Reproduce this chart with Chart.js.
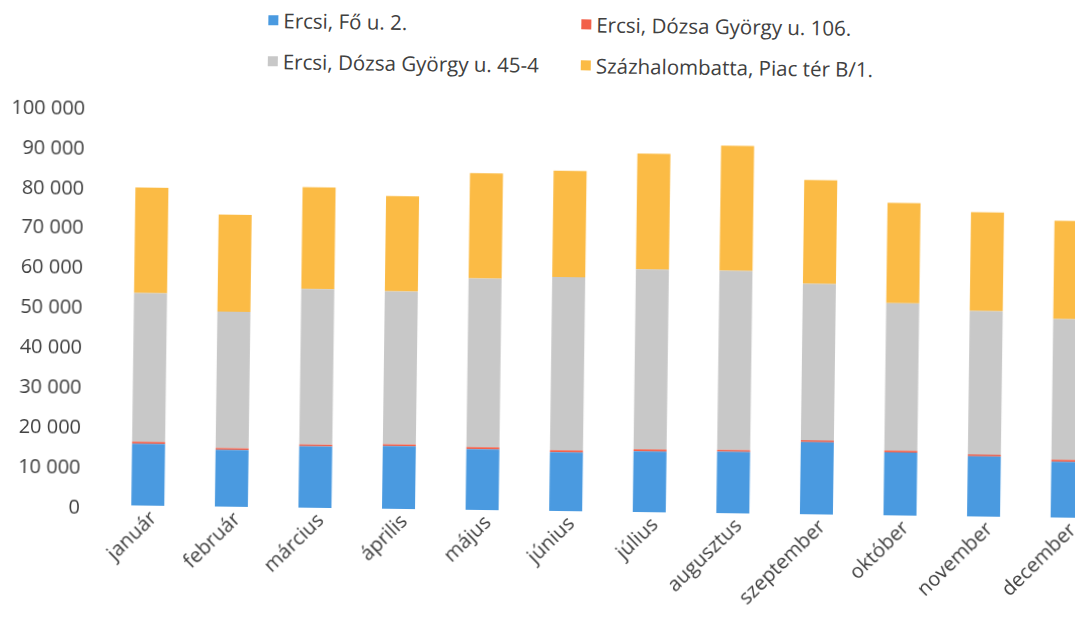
<!DOCTYPE html>
<html lang="hu">
<head>
<meta charset="utf-8">
<title>Havi forgalom</title>
<script src="https://cdn.jsdelivr.net/npm/chart.js@4"></script>
<style>
    html, body { margin: 0; padding: 0; background: #fff; overflow: hidden; }
    body { width: 1075px; height: 625px; }
    #page {
        position: absolute; left: 0; top: 0; width: 1109px; height: 625px;
        background: #fff;
        /* a beolvasott kép enyhén el van forgatva */
        transform: rotate(0.75deg);
        transform-origin: 100px 505px;
    }
    #legend { position: absolute; left: 0; top: 0; width: 1109px; height: 90px;
        font-family: "Open Sans", sans-serif; font-size: 20.5px; color: #404040; }
    .item { position: absolute; display: flex; align-items: center; white-space: nowrap; height: 28px; }
    .box { width: 10px; height: 10px; margin-right: 5px; }
    canvas { position: absolute; left: 0; top: 0; }
</style>
</head>
<body>
<div id="page">
    <div id="legend"></div>
    <canvas id="monthChart" width="1109" height="625"></canvas>
</div>
<script>
// hónapok
const months = ['január', 'február', 'március', 'április', 'május', 'június',
    'július', 'augusztus', 'szeptember', 'október', 'november', 'december'];

// sorozatok (alulról felfelé)
const seriesNames = ['Ercsi, Fő u. 2.', 'Ercsi, Dózsa György u. 106.',
    'Ercsi, Dózsa György u. 45-4', 'Százhalombatta, Piac tér B/1.'];
const seriesColors = ['#4a9ae0', '#f2604a', '#c8c8c8', '#fbbb45'];

const foUtca = [15500, 14200, 15400, 15700, 15250, 14750, 15250, 15400, 18100, 15800, 15100, 14000];
const dozsa106 = [450, 450, 450, 450, 450, 450, 450, 450, 450, 450, 450, 450];
const dozsa45 = [37300, 34250, 38950, 38350, 42350, 43450, 45150, 44950, 39250, 36950, 35950, 35300];
const piacTer = [26450, 24300, 25550, 23900, 26350, 26650, 29000, 31300, 25950, 25100, 24750, 24600];

// tengely beosztás
const yMax = 100000;
const yStep = 10000;

const seriesValues = [foUtca, dozsa106, dozsa45, piacTer];

// ezres tagolás szóközzel
function formatNumber(v) {
    return String(v).replace(/\B(?=(\d{3})+(?!\d))/g, ' ');
}

// jelmagyarázat két oszlopban
function buildLegend() {
    const legend = document.getElementById('legend');
    const cols = [262, 575];
    const rows = [4, 45];
    seriesNames.forEach((name, i) => {
        const item = document.createElement('div');
        item.className = 'item';
        item.style.left = cols[i % 2] + 'px';
        item.style.top = rows[Math.floor(i / 2)] + 'px';
        item.innerHTML = `<span class="box" style="background:${seriesColors[i]}"></span><span>${name}</span>`;
        legend.appendChild(item);
    });
}

function renderChart() {
    const ctx = document.getElementById('monthChart').getContext('2d');
    const tickFont = { family: '"Open Sans", sans-serif', size: 20 };

    new Chart(ctx, {
        type: 'bar',
        data: {
            labels: months,
            datasets: seriesNames.map((name, i) => ({
                label: name,
                data: seriesValues[i],
                backgroundColor: seriesColors[i],
                borderWidth: 0,
                barPercentage: 0.395,
                categoryPercentage: 1
            }))
        },
        options: {
            responsive: false,
            animation: false,
            devicePixelRatio: 1,
            layout: { padding: { left: 0, right: 0, top: 106, bottom: 0 } },
            scales: {
                x: {
                    stacked: true,
                    grid: { display: false, drawTicks: false },
                    border: { display: false },
                    ticks: {
                        autoSkip: false,
                        minRotation: 45,
                        maxRotation: 45,
                        padding: 1,
                        labelOffset: 6,
                        color: '#404040',
                        font: tickFont
                    },
                    afterFit: (scale) => { scale.height = 120; }
                },
                y: {
                    stacked: true,
                    min: 0,
                    max: yMax,
                    grid: { display: false, drawTicks: false },
                    border: { display: false },
                    ticks: {
                        stepSize: yStep,
                        padding: 26,
                        labelOffset: 3,
                        color: '#404040',
                        font: tickFont,
                        callback: (v) => formatNumber(v)
                    },
                    afterFit: (scale) => { scale.width = 106; }
                }
            },
            plugins: {
                legend: { display: false },
                tooltip: { enabled: false }
            }
        }
    });
}

buildLegend();
renderChart();
</script>
</body>
</html>
